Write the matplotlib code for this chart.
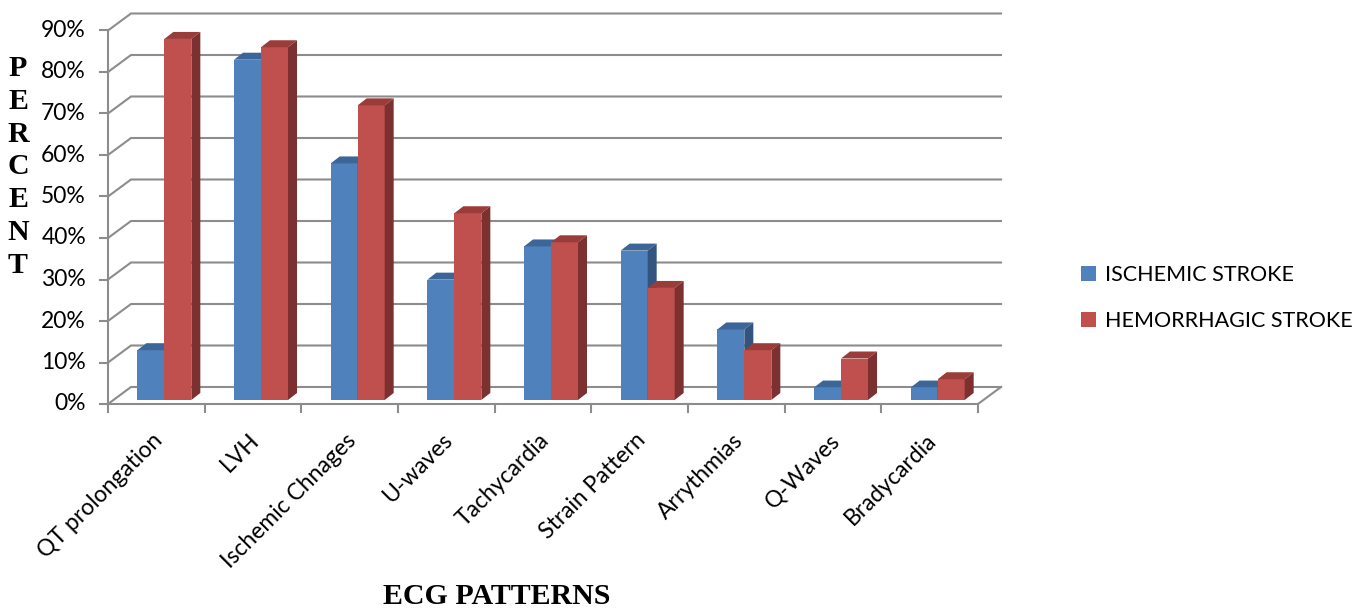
import numpy as np
import matplotlib
matplotlib.use("Agg")
import matplotlib.pyplot as plt
from matplotlib.patches import Polygon

# ECG findings by stroke type (percent of patients)
patterns = ['QT prolongation', 'LVH', 'Ischemic Chnages', 'U-waves', 'Tachycardia',
            'Strain Pattern', 'Arrythmias', 'Q-Waves', 'Bradycardia']
ischemic = [12, 82, 57, 29, 37, 36, 17, 3, 3]
hemorrhagic = [87, 85, 71, 45, 38, 27, 12, 10, 5]
y_ticks = [0, 10, 20, 30, 40, 50, 60, 70, 80, 90]

W, H = 1369, 612
fig = plt.figure(figsize=(W / 100, H / 100), dpi=100)

# axes = the plane the bar fronts stand on (pixel box of the plot area)
ax_left, ax_width = 116, 870
ax_base, ax_height = 400, 373.5
ax = fig.add_axes([ax_left / W, (H - ax_base) / H, ax_width / W, ax_height / H])
n = len(patterns)
ax.set_xlim(0, n)
ax.set_ylim(0, 90)
ax.axis('off')

# pixel -> data factors, for the fake-3D depth
PX = n / ax_width
PY = 90 / ax_height

front = (-8, -4)    # front edge of the floor relative to bar plane (px)
back = (15, 13)     # back wall relative to bar plane (px)
bar_depth = (9, 7)
bar_w = 27 * PX

grid_c = '#8c8c8c'
lw = 1.5
tick_fs = 16.5


def off(x, y, d):
    return x + d[0] * PX, y + d[1] * PY


# back wall gridlines + diagonals on the side wall
for v in y_ticks:
    x0, y0 = off(0, v, front)
    x1, y1 = off(0, v, back)
    x2, y2 = off(n, v, back)
    ax.plot([x0, x1, x2], [y0, y1, y2], color=grid_c, lw=lw, clip_on=False,
            zorder=1, solid_joinstyle='miter')
    # y tick mark and label on the front axis
    ax.plot([x0 - 8 * PX, x0], [y0, y0], color=grid_c, lw=lw, clip_on=False, zorder=1)
    ax.text(x0 - 22 * PX, y0, f'{v}%', ha='right', va='center', fontsize=tick_fs,
            family='Lato', color='black')

# front axis line
xa, ya0 = off(0, 0, front)
_, ya1 = off(0, 90, front)
ax.plot([xa, xa], [ya0, ya1], color=grid_c, lw=lw, clip_on=False, zorder=1)

# floor front edge, right edge and category ticks
fx0, fy = off(0, 0, front)
fx1, _ = off(n, 0, front)
bx1, by = off(n, 0, back)
ax.plot([fx0, fx1, bx1], [fy, fy, by], color=grid_c, lw=lw, clip_on=False, zorder=1,
        solid_joinstyle='miter')
for i in range(n + 1):
    tx, _ = off(i, 0, front)
    ax.plot([tx, tx], [fy, fy - 8 * PY], color=grid_c, lw=lw, clip_on=False, zorder=1)

centers = np.arange(n) + 0.5


def draw_bars(xs, vals, face, top, side, label):
    bars = ax.bar(xs, vals, width=bar_w, align='edge', color=face, linewidth=0,
                  label=label, zorder=3)
    dx, dy = bar_depth[0] * PX, bar_depth[1] * PY
    for x, v in zip(xs, vals):
        ax.add_patch(Polygon([(x, v), (x + bar_w, v), (x + bar_w + dx, v + dy), (x + dx, v + dy)],
                             closed=True, facecolor=top, edgecolor='none', zorder=3, clip_on=False))
        ax.add_patch(Polygon([(x + bar_w, 0), (x + bar_w + dx, dy), (x + bar_w + dx, v + dy),
                              (x + bar_w, v)],
                             closed=True, facecolor=side, edgecolor='none', zorder=3, clip_on=False))
    return bars


b1 = draw_bars(centers - bar_w, ischemic, '#4f81bd', '#3c6698', '#32547f', 'ISCHEMIC STROKE')
b2 = draw_bars(centers, hemorrhagic, '#c0504d', '#9a3c3a', '#7c3030', 'HEMORRHAGIC STROKE')

# rotated category labels
for c, name in zip(centers, patterns):
    lx, _ = off(c, 0, front)
    ax.text(lx + 3 * PX, -37 * PY, name, rotation=45, rotation_mode='anchor',
            ha='right', va='center', fontsize=tick_fs, family='Lato')

fig.text(497 / W, 1 - 597 / H, 'ECG PATTERNS', ha='center', va='center',
         fontsize=21.5, fontweight='bold', family='Liberation Serif')
fig.text(18 / W, 1 - 167 / H, '\n'.join('PERCENT'), ha='center', va='center',
         fontsize=21.5, fontweight='bold', family='Liberation Serif', linespacing=1.27)

fig.legend([b1, b2], ['ISCHEMIC STROKE', 'HEMORRHAGIC STROKE'], loc='center left',
           bbox_to_anchor=(1062 / W, 1 - 298 / H), frameon=False,
           prop={'family': 'Lato', 'size': 15.5}, handlelength=0.7, handleheight=0.7,
           handletextpad=0.4, labelspacing=1.2)

fig.savefig('out.png', dpi=100)
